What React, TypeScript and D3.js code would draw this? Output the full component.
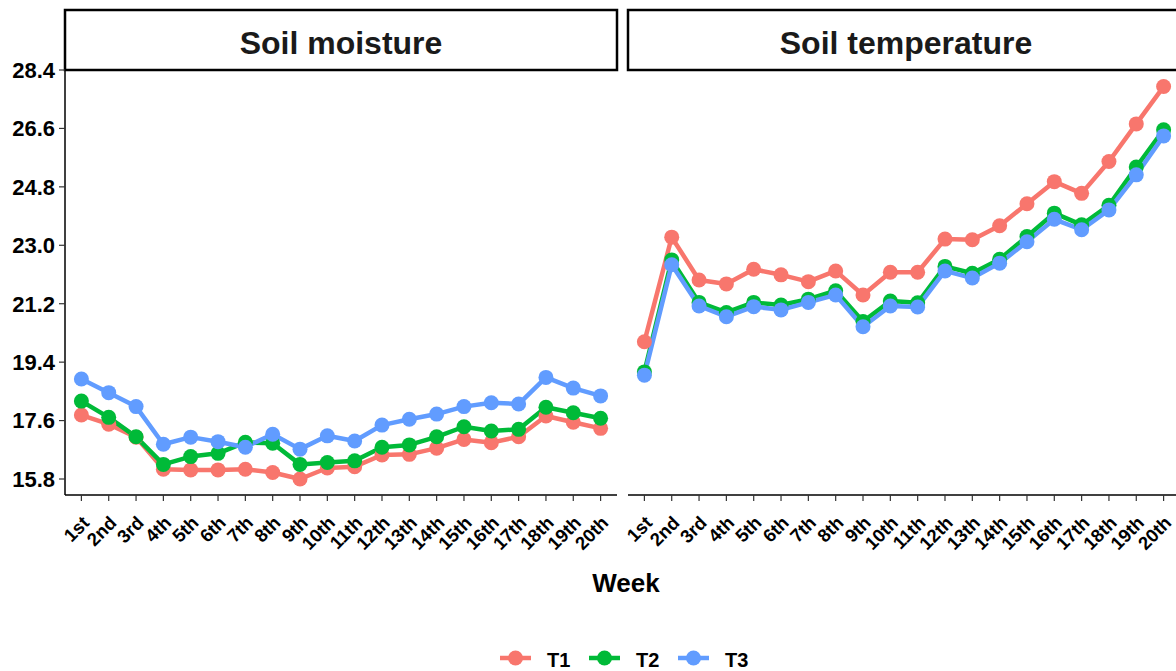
import React, { useEffect, useRef } from 'react';
import * as d3 from 'd3';

const weeks = ['1st', '2nd', '3rd', '4th', '5th', '6th', '7th', '8th', '9th', '10th',
  '11th', '12th', '13th', '14th', '15th', '16th', '17th', '18th', '19th', '20th'];

const treatments = ['T1', 'T2', 'T3'];
const colors = ['#F8766D', '#00BA38', '#619CFF'];

const moistureT1 = [17.77, 17.49, 17.09, 16.10, 16.08, 16.08, 16.10, 16.00, 15.80, 16.14, 16.18, 16.54, 16.56, 16.75, 17.02, 16.92, 17.10, 17.74, 17.55, 17.36];
const moistureT2 = [18.20, 17.70, 17.10, 16.25, 16.49, 16.59, 16.93, 16.90, 16.25, 16.31, 16.36, 16.78, 16.85, 17.10, 17.41, 17.28, 17.33, 18.01, 17.84, 17.67];
const moistureT3 = [18.88, 18.46, 18.03, 16.87, 17.09, 16.95, 16.78, 17.18, 16.72, 17.13, 16.97, 17.46, 17.64, 17.80, 18.03, 18.15, 18.11, 18.93, 18.60, 18.36];

const temperatureT1 = [20.03, 23.25, 21.93, 21.81, 22.26, 22.09, 21.88, 22.21, 21.47, 22.17, 22.17, 23.19, 23.17, 23.60, 24.28, 24.96, 24.60, 25.58, 26.74, 27.89];
const temperatureT2 = [19.10, 22.55, 21.24, 20.93, 21.24, 21.16, 21.34, 21.60, 20.65, 21.28, 21.23, 22.35, 22.14, 22.57, 23.27, 23.99, 23.63, 24.23, 25.41, 26.56];
const temperatureT3 = [19.00, 22.40, 21.13, 20.80, 21.11, 21.01, 21.24, 21.47, 20.49, 21.13, 21.10, 22.21, 21.99, 22.45, 23.11, 23.80, 23.48, 24.09, 25.17, 26.37];

const yTicks = [15.8, 17.6, 19.4, 21.2, 23.0, 24.8, 26.6, 28.4];

const panels = [
  { title: 'Soil moisture', series: [moistureT1, moistureT2, moistureT3] },
  { title: 'Soil temperature', series: [temperatureT1, temperatureT2, temperatureT3] },
];

const FONT = '"Liberation Sans", Arial, sans-serif';

const App: React.FC = () => {
  const svgRef = useRef<SVGSVGElement>(null);

  useEffect(() => {
    if (!svgRef.current) return;
    const svg = d3.select(svgRef.current);
    svg.selectAll('*').remove();

    const width = 1176;
    const panelTop = 70;
    const panelBottom = 495;
    const stripTop = 10;
    const panelX = [[65, 617], [628, 1180]];

    const y = d3.scaleLinear().domain([15.8, 28.4]).range([479, 70]);

    panels.forEach((p, pi) => {
      const [x0, x1] = panelX[pi];
      const x = d3.scalePoint<string>().domain(weeks).range([x0, x1]).padding(0.6);
      const g = svg.append('g');

      // strip
      g.append('rect')
        .attr('x', x0).attr('y', stripTop)
        .attr('width', x1 - x0).attr('height', panelTop - stripTop)
        .attr('fill', 'white').attr('stroke', 'black').attr('stroke-width', 2.5);
      g.append('text')
        .attr('x', (x0 + Math.min(x1, width)) / 2 + (pi === 1 ? 4 : 0))
        .attr('y', 54)
        .attr('text-anchor', 'middle')
        .attr('font-family', FONT).attr('font-weight', 'bold').attr('font-size', 32)
        .attr('fill', '#1a1a1a')
        .text(p.title);

      // bottom axis
      g.append('line')
        .attr('x1', x0).attr('x2', x1).attr('y1', panelBottom).attr('y2', panelBottom)
        .attr('stroke', 'black').attr('stroke-width', 1.5);
      weeks.forEach(w => {
        const xx = x(w) as number;
        g.append('line')
          .attr('x1', xx).attr('x2', xx).attr('y1', panelBottom).attr('y2', panelBottom + 6)
          .attr('stroke', '#333').attr('stroke-width', 1.2);
        g.append('text')
          .attr('transform', `translate(${xx + 9},${524})rotate(-45)`)
          .attr('text-anchor', 'end')
          .attr('font-family', FONT).attr('font-weight', 'bold').attr('font-size', 18.5)
          .attr('fill', 'black')
          .text(w);
      });

      // y axis on first panel only
      if (pi === 0) {
        g.append('line')
          .attr('x1', x0).attr('x2', x0).attr('y1', panelTop).attr('y2', panelBottom)
          .attr('stroke', 'black').attr('stroke-width', 1.5);
        yTicks.forEach(t => {
          g.append('line')
            .attr('x1', x0 - 6).attr('x2', x0).attr('y1', y(t)).attr('y2', y(t))
            .attr('stroke', '#333').attr('stroke-width', 1.2);
          g.append('text')
            .attr('x', x0 - 10).attr('y', y(t)).attr('dy', '0.36em')
            .attr('text-anchor', 'end')
            .attr('font-family', FONT).attr('font-weight', 'bold').attr('font-size', 22)
            .attr('fill', 'black')
            .text(t.toFixed(1));
        });
      }

      const line = d3.line<number>()
        .x((_, i) => x(weeks[i]) as number)
        .y(d => y(d));

      p.series.forEach((s, si) => {
        g.append('path')
          .datum(s)
          .attr('d', line)
          .attr('fill', 'none')
          .attr('stroke', colors[si])
          .attr('stroke-width', 4.5)
          .attr('stroke-linejoin', 'round');
      });
      p.series.forEach((s, si) => {
        g.append('g')
          .selectAll('circle')
          .data(s)
          .join('circle')
          .attr('cx', (_, i) => x(weeks[i]) as number)
          .attr('cy', d => y(d))
          .attr('r', 7.5)
          .attr('fill', colors[si]);
      });
    });

    // x axis title
    svg.append('text')
      .attr('x', 626).attr('y', 592)
      .attr('text-anchor', 'middle')
      .attr('font-family', FONT).attr('font-weight', 'bold').attr('font-size', 26)
      .attr('fill', 'black')
      .text('Week');

    // legend
    const legendX = [500, 589, 678];
    treatments.forEach((t, i) => {
      const lg = svg.append('g').attr('transform', `translate(${legendX[i]},658)`);
      lg.append('line')
        .attr('x1', 0).attr('x2', 31).attr('y1', 0).attr('y2', 0)
        .attr('stroke', colors[i]).attr('stroke-width', 4.5);
      lg.append('circle').attr('cx', 15.5).attr('cy', 0).attr('r', 7.5).attr('fill', colors[i]);
      lg.append('text')
        .attr('x', 47).attr('y', 9)
        .attr('font-family', FONT).attr('font-weight', 'bold').attr('font-size', 20)
        .attr('fill', 'black')
        .text(t);
    });
  }, []);

  return (
    <svg
      ref={svgRef}
      width={1176}
      height={671}
      style={{ position: 'absolute', left: 0, top: 0, background: 'white' }}
    />
  );
};

export default App;
